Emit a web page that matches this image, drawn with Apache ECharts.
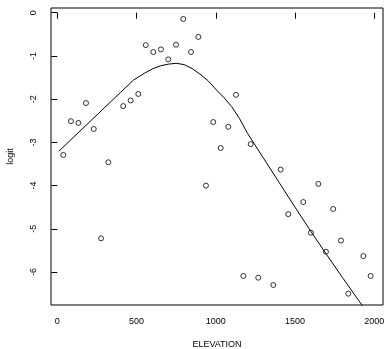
<!DOCTYPE html>
<html>
<head>
<meta charset="utf-8">
<script src="https://cdn.jsdelivr.net/npm/echarts@6/dist/echarts.min.js"></script>
<style>
    html, body { margin: 0; padding: 0; background: #fff; }
    #chart { width: 384px; height: 349px; }
</style>
</head>
<body>
<div id="chart"></div>
<script>
// observed points (elevation, logit)
var elevation = [38, 86, 133, 181, 230, 276, 322, 416, 463, 511, 558, 606, 654, 700, 749, 795, 844, 890,
    938, 984, 1031, 1079, 1127, 1174, 1220, 1268, 1363, 1409, 1457, 1552, 1600, 1647, 1695, 1741, 1790, 1836, 1931, 1977];
var logit = [-3.29, -2.51, -2.55, -2.09, -2.69, -5.22, -3.46, -2.16, -2.03, -1.88, -0.75, -0.91, -0.85, -1.08, -0.74, -0.145, -0.91, -0.56,
    -4.00, -2.53, -3.13, -2.64, -1.90, -6.09, -3.04, -6.13, -6.30, -3.63, -4.66, -4.38, -5.09, -3.96, -5.53, -4.54, -5.27, -6.50, -5.63, -6.09];

// fitted curve
var curveX = [11, 100, 200, 300, 400, 480, 550, 600, 650, 700, 750, 800, 850, 900, 950, 1000, 1050, 1100, 1150, 1200,
    1300, 1400, 1500, 1600, 1700, 1800, 1900, 1960];
var curveY = [-3.20, -2.89, -2.54, -2.19, -1.84, -1.56, -1.40, -1.30, -1.23, -1.19, -1.17, -1.20, -1.29, -1.42, -1.57, -1.77, -1.96, -2.17, -2.45, -2.79,
    -3.36, -3.93, -4.50, -5.06, -5.60, -6.13, -6.65, -6.95];

var xTicks = [0, 500, 1000, 1500, 2000];
var yTicks = [-6, -5, -4, -3, -2, -1, 0];

var chartDom = document.getElementById('chart');
var myChart = echarts.init(chartDom);

var font = '"Liberation Sans", Arial, Helvetica, sans-serif';

var option = {
    animation: false,
    grid: {
        left: 51,
        top: 8,
        width: 332,
        height: 297,
        outerBoundsMode: 'none',
        containLabel: false,
        show: true,
        borderColor: '#000',
        borderWidth: 1,
        backgroundColor: 'transparent'
    },
    xAxis: {
        type: 'value',
        min: -39.7,
        max: 2055,
        name: 'ELEVATION',
        nameLocation: 'middle',
        nameGap: 35,
        nameTextStyle: { fontFamily: font, fontSize: 9, color: '#000' },
        axisLine: { show: false },
        axisTick: {
            show: true,
            length: 6,
            lineStyle: { color: '#000', width: 1 },
            customValues: xTicks
        },
        axisLabel: {
            fontFamily: font,
            fontSize: 9,
            color: '#000',
            margin: 12,
            customValues: xTicks,
            formatter: function(v) { return String(v); }
        },
        splitLine: { show: false }
    },
    yAxis: {
        type: 'value',
        min: -6.762,
        max: 0.109,
        name: 'logit',
        nameLocation: 'middle',
        nameRotate: 90,
        nameGap: 36,
        nameTextStyle: { fontFamily: font, fontSize: 9, color: '#000' },
        axisLine: { show: false },
        axisTick: {
            show: true,
            length: 6,
            lineStyle: { color: '#000', width: 1 },
            customValues: yTicks
        },
        axisLabel: {
            fontFamily: font,
            fontSize: 9,
            color: '#000',
            rotate: 90,
            margin: 13,
            customValues: yTicks,
            formatter: function(v) { return String(v); }
        },
        splitLine: { show: false }
    },
    series: [
        {
            type: 'line',
            data: curveX.map(function(x, i) { return [x, curveY[i]]; }),
            showSymbol: false,
            clip: true,
            lineStyle: { color: '#000', width: 1 },
            silent: true
        },
        {
            type: 'scatter',
            data: elevation.map(function(x, i) { return [x, logit[i]]; }),
            symbol: 'circle',
            symbolSize: 5,
            itemStyle: { color: 'rgba(0,0,0,0)', borderColor: '#000', borderWidth: 1 }
        }
    ]
};

myChart.setOption(option);
</script>
</body>
</html>
